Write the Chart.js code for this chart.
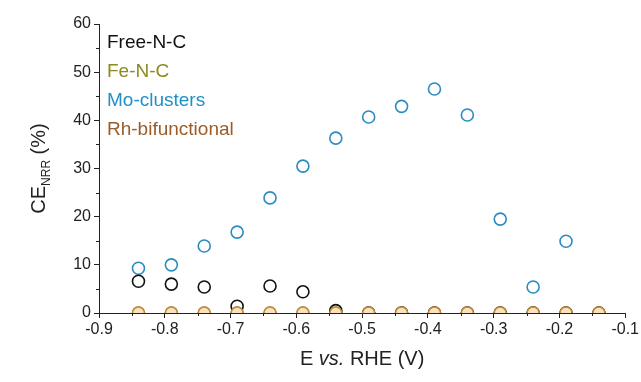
<!DOCTYPE html>
<html>
<head>
<meta charset="utf-8">
<script src="https://cdn.jsdelivr.net/npm/chart.js@4/dist/chart.umd.min.js"></script>
<style>
  html, body { margin: 0; background: #fff; }
  #wrap { width: 641px; height: 382px; position: relative; }
</style>
</head>
<body>
<div id="wrap"><canvas id="chart"></canvas></div>
<script>
// potentials (V vs. RHE)
const potentials = [-0.84, -0.79, -0.74, -0.69, -0.64, -0.59, -0.54, -0.49, -0.44, -0.39, -0.34, -0.29, -0.24, -0.19, -0.14];
// CE_NRR (%) per catalyst
const freeNC = [6.6, 6.0, 5.4, 1.4, 5.6, 4.4, 0.5, 0, 0, 0, 0, 0, 0, 0, 0];
const feNC = [0, 0, 0, 0, 0, 0, 0, 0, 0, 0, 0, 0, 0, 0, 0];
const moClusters = [9.3, 10.0, 13.9, 16.8, 23.9, 30.5, 36.3, 40.7, 42.9, 46.5, 41.1, 19.5, 5.4, 14.9, null];
const rhBifunctional = [0, 0, 0, 0, 0, 0, 0, 0, 0, 0, 0, 0, 0, 0, 0];

const seriesNames = ['Free-N-C', 'Fe-N-C', 'Mo-clusters', 'Rh-bifunctional'];
const legendColors = ['#111111', '#8c8a1e', '#2190c9', '#9a5c28'];

const xTicks = [-0.9, -0.8, -0.7, -0.6, -0.5, -0.4, -0.3, -0.2, -0.1];
const yTicks = [0, 10, 20, 30, 40, 50, 60];

const FONT = '"Liberation Sans", Arial, sans-serif';

const toPoints = arr => potentials.map((x, i) => ({ x, y: arr[i] })).filter(p => p.y !== null);

const mkSet = (label, data, border, fill, order) => ({
  label,
  data: toPoints(data),
  showLine: false,
  pointRadius: 6,
  pointHoverRadius: 6,
  pointBorderWidth: 1.6,
  pointBorderColor: border,
  pointBackgroundColor: fill,
  clip: false,
  order
});

// markers sitting on the zero line are cut at the x axis, like the original
const clipPlugin = {
  id: 'clipBottom',
  beforeDatasetsDraw(chart) {
    const ctx = chart.ctx;
    ctx.save();
    ctx.beginPath();
    ctx.rect(0, 0, chart.width, chart.chartArea.bottom);
    ctx.clip();
  },
  afterDatasetsDraw(chart) {
    chart.ctx.restore();
  }
};

// minor ticks, text legend and axis titles
const decorPlugin = {
  id: 'decor',
  afterDraw(chart) {
    const ctx = chart.ctx;
    const xs = chart.scales.x, ys = chart.scales.y;
    const area = chart.chartArea;
    ctx.save();
    ctx.strokeStyle = '#222';
    ctx.lineWidth = 1;
    ctx.beginPath();
    for (let v = 5; v < 60; v += 10) {
      const py = Math.round(ys.getPixelForValue(v)) + 0.5;
      ctx.moveTo(area.left - 3, py);
      ctx.lineTo(area.left, py);
    }
    for (let i = 0; i < xTicks.length - 1; i++) {
      const v = xTicks[i] + 0.05;
      const px = Math.round(xs.getPixelForValue(v)) + 0.5;
      ctx.moveTo(px, area.bottom);
      ctx.lineTo(px, area.bottom + 3);
    }
    ctx.stroke();

    // legend (text only)
    ctx.font = '19px ' + FONT;
    ctx.textBaseline = 'middle';
    ctx.textAlign = 'left';
    seriesNames.forEach((name, i) => {
      ctx.fillStyle = legendColors[i];
      ctx.fillText(name, area.left + 8, area.top + 19 + i * 29);
    });

    // x title: E vs. RHE (V)
    ctx.fillStyle = '#222';
    ctx.textBaseline = 'alphabetic';
    const parts = [['E ', '20px ' + FONT], ['vs.', 'italic 20px ' + FONT], [' RHE (V)', '20px ' + FONT]];
    let total = 0;
    parts.forEach(p => { ctx.font = p[1]; total += ctx.measureText(p[0]).width; });
    let cx = (area.left + area.right) / 2 - total / 2;
    parts.forEach(p => {
      ctx.font = p[1];
      ctx.fillText(p[0], cx, 365);
      cx += ctx.measureText(p[0]).width;
    });

    // y title: CE_NRR (%)
    ctx.translate(38, (area.top + area.bottom) / 2);
    ctx.rotate(-Math.PI / 2);
    const yparts = [['CE', '20px ' + FONT, 0], ['NRR', '12px ' + FONT, 5], [' (%)', '20px ' + FONT, 0]];
    total = 0;
    yparts.forEach(p => { ctx.font = p[1]; total += ctx.measureText(p[0]).width; });
    cx = -total / 2;
    yparts.forEach(p => {
      ctx.font = p[1];
      ctx.fillText(p[0], cx, 7 + p[2]);
      cx += ctx.measureText(p[0]).width;
    });
    ctx.restore();
  }
};

new Chart(document.getElementById('chart'), {
  type: 'scatter',
  data: {
    datasets: [
      mkSet(seriesNames[0], freeNC, '#111111', 'rgba(255,255,255,0)', 1),
      mkSet(seriesNames[1], feNC, '#8c8a1e', 'rgba(255,255,255,0)', 2),
      mkSet(seriesNames[2], moClusters, '#2a8cc0', 'rgba(255,255,255,0)', 3),
      mkSet(seriesNames[3], rhBifunctional, '#c48a40', '#fbe2bf', 0)
    ]
  },
  options: {
    responsive: true,
    maintainAspectRatio: false,
    animation: false,
    layout: { padding: { top: 24, right: 13, left: 0, bottom: 0 } },
    plugins: { legend: { display: false }, tooltip: { enabled: false } },
    scales: {
      x: {
        type: 'linear',
        min: -0.9,
        max: -0.1,
        afterBuildTicks: s => { s.ticks = xTicks.map(v => ({ value: v })); },
        afterFit: s => { s.height = 69; },
        border: { color: '#222', width: 1 },
        grid: { drawOnChartArea: false, drawTicks: true, tickLength: 5, color: '#222' },
        ticks: { color: '#222', font: { family: FONT, size: 16 }, padding: 2, maxRotation: 0,
          callback: v => v.toFixed(1) }
      },
      y: {
        min: 0,
        max: 60,
        afterBuildTicks: s => { s.ticks = yTicks.map(v => ({ value: v })); },
        afterFit: s => { s.width = 99; },
        border: { color: '#222', width: 1 },
        grid: { drawOnChartArea: false, drawTicks: true, tickLength: 5, color: '#222' },
        ticks: { color: '#222', font: { family: FONT, size: 16 }, padding: 3 }
      }
    }
  },
  plugins: [clipPlugin, decorPlugin]
});
</script>
</body>
</html>
